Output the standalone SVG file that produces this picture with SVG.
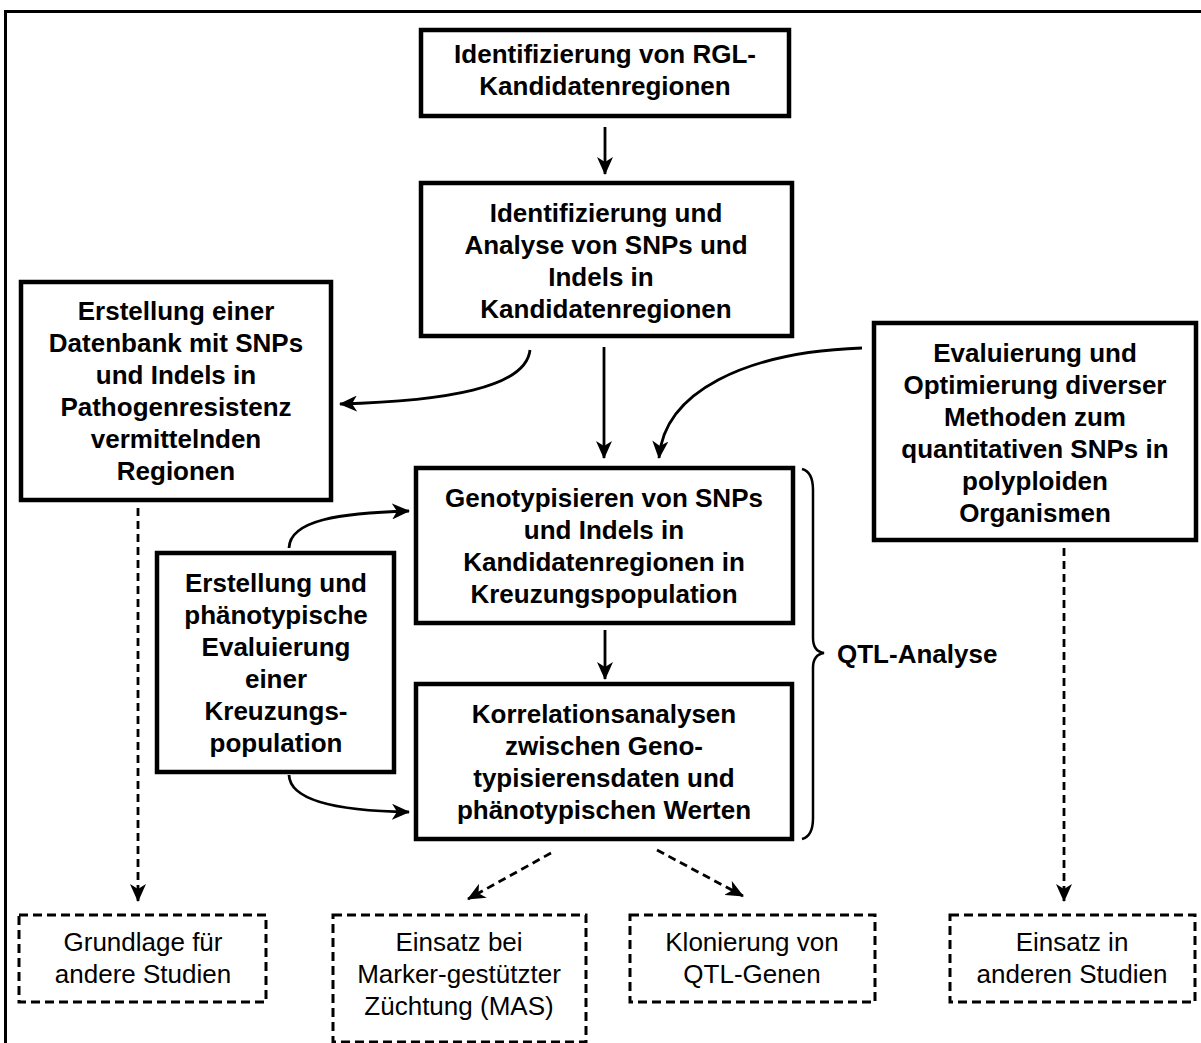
<svg xmlns="http://www.w3.org/2000/svg" width="1201" height="1043" viewBox="0 0 1201 1043">
<style>
.bg{fill:#fff}
.frame{fill:none;stroke:#000;stroke-width:3}
.box{fill:#fff;stroke:#000;stroke-width:4.5}
.dbox{fill:#fff;stroke:#000;stroke-width:3;stroke-dasharray:9 5}
.b{font-family:"Liberation Sans",Arial,sans-serif;font-weight:bold;font-size:26px;text-anchor:middle;fill:#000}
.r{font-family:"Liberation Sans",Arial,sans-serif;font-size:26px;text-anchor:middle;fill:#000}
.ql{font-family:"Liberation Sans",Arial,sans-serif;font-weight:bold;font-size:26px;fill:#000}
.c{fill:none;stroke:#000;stroke-width:2.8;marker-end:url(#ah)}
.d{fill:none;stroke:#000;stroke-width:2.8;stroke-dasharray:8 5;marker-end:url(#ah)}
.brace{fill:none;stroke:#000;stroke-width:2.5}
</style>
<defs>
<marker id="ah" markerUnits="userSpaceOnUse" markerWidth="18" markerHeight="16" refX="17" refY="8" orient="auto">
<path d="M0,0 L18,8 L0,16 L5,8 z" fill="#000"/>
</marker>
</defs>
<rect class="bg" x="0" y="0" width="1201" height="1043"/>
<rect class="frame" x="5.5" y="11.5" width="1210" height="1050"/>

<g id="connectors">
<path class="c" d="M605,127 L605,174"/>
<path class="c" d="M604,347 L604,458"/>
<path class="c" d="M862,348 C745,352 664,392 659,458"/>
<path class="c" d="M530,350 C526,388 445,401 340,404"/>
<path class="c" d="M605,630 L605,679"/>
<path class="c" d="M289,548 C290,520 340,513 409,511"/>
<path class="c" d="M289,775 C290,801 340,811 409,812"/>
<path class="d" d="M138,508 L138,901"/>
<path class="d" d="M551,853 L468,899"/>
<path class="d" d="M657,850 L743,896"/>
<path class="d" d="M1064,548 L1064,901"/>
<path class="brace" d="M802,469 C810,471 813,478 813,490 L813,638 C813,647 817,652 824,653 C817,654 813,659 813,668 L813,818 C813,830 810,837 802,839"/>
</g>

<g id="n1">
<rect class="box" x="421" y="30" width="368" height="86"/>
<text class="b" x="605" y="63">Identifizierung von RGL-</text>
<text class="b" x="605" y="95">Kandidatenregionen</text>
</g>

<g id="n2">
<rect class="box" x="421" y="183" width="371" height="153"/>
<text class="b" x="606" y="222">Identifizierung und</text>
<text class="b" x="606" y="254">Analyse von SNPs und</text>
<text class="b" x="601" y="286">Indels in</text>
<text class="b" x="606" y="318">Kandidatenregionen</text>
</g>

<g id="n3">
<rect class="box" x="21" y="282" width="310" height="218"/>
<text class="b" x="176" y="320">Erstellung einer</text>
<text class="b" x="176" y="352">Datenbank mit SNPs</text>
<text class="b" x="176" y="384">und Indels in</text>
<text class="b" x="176" y="416">Pathogenresistenz</text>
<text class="b" x="176" y="448">vermittelnden</text>
<text class="b" x="176" y="480">Regionen</text>
</g>

<g id="n4">
<rect class="box" x="874" y="323" width="322" height="217"/>
<text class="b" x="1035" y="362">Evaluierung und</text>
<text class="b" x="1035" y="394">Optimierung diverser</text>
<text class="b" x="1035" y="426">Methoden zum</text>
<text class="b" x="1035" y="458">quantitativen SNPs in</text>
<text class="b" x="1035" y="490">polyploiden</text>
<text class="b" x="1035" y="522">Organismen</text>
</g>

<g id="n5">
<rect class="box" x="416" y="468" width="377" height="155"/>
<text class="b" x="604" y="507">Genotypisieren von SNPs</text>
<text class="b" x="604" y="539">und Indels in</text>
<text class="b" x="604" y="571">Kandidatenregionen in</text>
<text class="b" x="604" y="603">Kreuzungspopulation</text>
</g>

<g id="n6">
<rect class="box" x="157" y="553" width="237" height="219"/>
<text class="b" x="276" y="592">Erstellung und</text>
<text class="b" x="276" y="624">phänotypische</text>
<text class="b" x="276" y="656">Evaluierung</text>
<text class="b" x="276" y="688">einer</text>
<text class="b" x="276" y="720">Kreuzungs-</text>
<text class="b" x="276" y="752">population</text>
</g>

<g id="n7">
<rect class="box" x="416" y="684" width="376" height="155"/>
<text class="b" x="604" y="723">Korrelationsanalysen</text>
<text class="b" x="604" y="755">zwischen Geno-</text>
<text class="b" x="604" y="787">typisierensdaten und</text>
<text class="b" x="604" y="819">phänotypischen Werten</text>
</g>

<g id="qtl">
<text class="ql" x="837" y="663">QTL-Analyse</text>
</g>

<g id="n8">
<rect class="dbox" x="19" y="915" width="247" height="87"/>
<text class="r" x="143" y="951">Grundlage für</text>
<text class="r" x="143" y="983">andere Studien</text>
</g>

<g id="n9">
<rect class="dbox" x="333" y="915" width="253" height="127"/>
<text class="r" x="459" y="951">Einsatz bei</text>
<text class="r" x="459" y="983">Marker-gestützter</text>
<text class="r" x="459" y="1015">Züchtung (MAS)</text>
</g>

<g id="n10">
<rect class="dbox" x="630" y="915" width="245" height="87"/>
<text class="r" x="752" y="951">Klonierung von</text>
<text class="r" x="752" y="983">QTL-Genen</text>
</g>

<g id="n11">
<rect class="dbox" x="950" y="915" width="245" height="87"/>
<text class="r" x="1072" y="951">Einsatz in</text>
<text class="r" x="1072" y="983">anderen Studien</text>
</g>
</svg>
